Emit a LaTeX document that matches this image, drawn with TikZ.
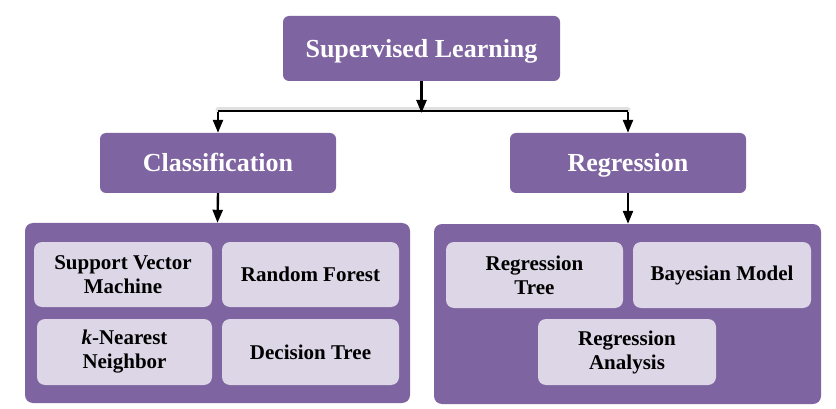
\documentclass[tikz,border=0pt]{standalone}
\usepackage{fontspec}
\setmainfont{Liberation Serif}
\usetikzlibrary{arrows.meta}
\definecolor{purp}{HTML}{7E64A0}
\definecolor{lav}{HTML}{DDD6E6}
\begin{document}
\begin{tikzpicture}[x=1pt,y=-1pt,
  headbox/.style={fill=purp,draw=none,rounded corners=6pt,inner sep=0pt,
    text=white,font=\fontsize{26}{28}\selectfont\bfseries,
    text height=18pt,text depth=0pt},
  container/.style={fill=purp,draw=none,rounded corners=8pt,inner sep=0pt},
  leafbox/.style={fill=lav,draw=none,rounded corners=8pt,inner sep=0pt,
    text=black,align=center,font=\fontsize{21}{24}\selectfont\bfseries},
  conn/.style={line width=2.4pt,draw=black},
  arr/.style={conn,-{Triangle[length=13pt,width=10pt]}},
  shadowline/.style={line width=5pt,draw=black!12,line cap=round}
]
\useasboundingbox (0,0) rectangle (836,409);
\fill[white] (0,0) rectangle (836,409);

% top
\node[headbox,minimum width=277pt,minimum height=65pt] (top) at (421.5,48.5) {Supervised Learning};
\node[headbox,minimum width=236pt,minimum height=60pt] (cls) at (218,163) {Classification};
\node[headbox,minimum width=236pt,minimum height=60pt] (reg) at (628,163) {Regression};

% containers
\node[container,minimum width=385pt,minimum height=180pt] (lc) at (217.5,313) {};
\node[container,minimum width=387pt,minimum height=180pt] (rc) at (627.5,314) {};

% leaves
\node[leafbox,minimum width=178pt,minimum height=65pt] (svm) at (123,274.5) {Support Vector\\Machine};
\node[leafbox,minimum width=177pt,minimum height=65pt] (rf) at (310.5,274.5) {Random Forest};
\node[leafbox,minimum width=175pt,minimum height=66pt] (knn) at (124.5,352) {\textit{k}-Nearest\\Neighbor};
\node[leafbox,minimum width=177pt,minimum height=66pt] (dt) at (310.5,352) {Decision Tree};
\node[leafbox,minimum width=177pt,minimum height=66pt] (rt) at (534.5,275) {Regression\\Tree};
\node[leafbox,minimum width=178pt,minimum height=66pt] (bm) at (722,275) {Bayesian Model};
\node[leafbox,minimum width=178pt,minimum height=66pt] (ra) at (627,352) {Regression\\Analysis};

% connectors
\coordinate (jl) at (218,111);
\coordinate (jr) at (628,111);
\coordinate (jm) at (421.5,111);
\draw[shadowline] ([yshift=1pt]jl) -- ([yshift=1pt]jr);
\draw[conn] (jl) -- (jr);
\draw[arr] (top.south) -- ([yshift=-2pt]jm);
\draw[arr] ([yshift=-1.2pt]jl) -- (cls.north);
\draw[arr] ([yshift=-1.2pt]jr) -- (reg.north);
\draw[arr] (cls.south) -- (lc.north);
\draw[arr] (reg.south) -- (rc.north -| reg.south);
\end{tikzpicture}
\end{document}
